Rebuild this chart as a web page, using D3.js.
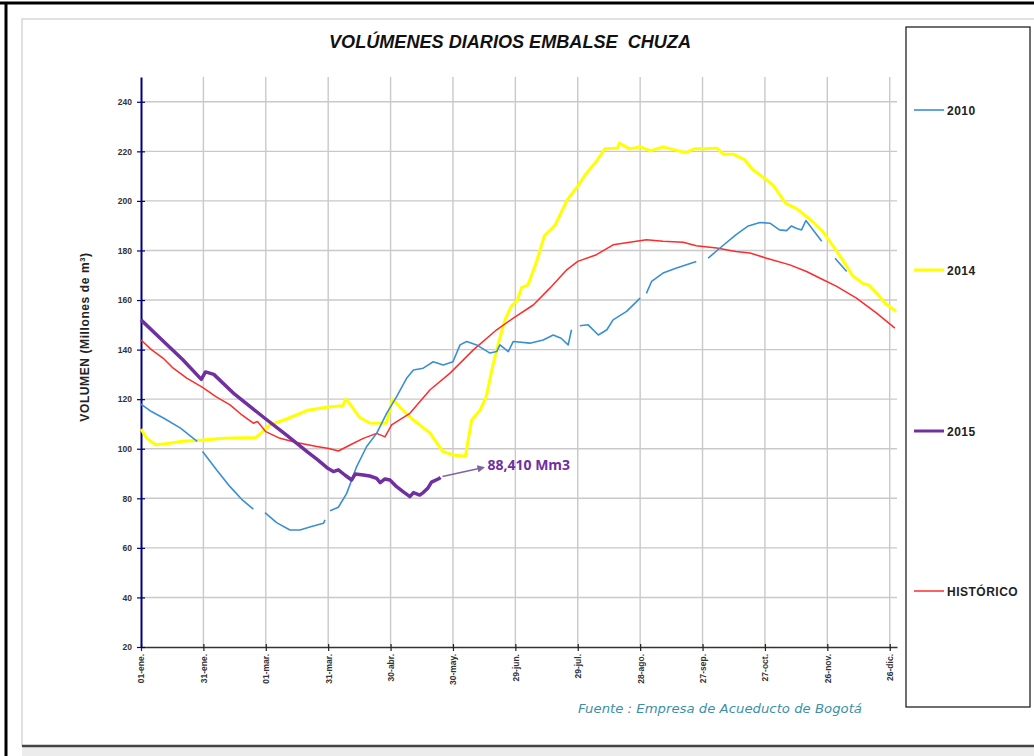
<!DOCTYPE html>
<html>
<head>
<meta charset="utf-8">
<script src="https://cdnjs.cloudflare.com/ajax/libs/d3/7.8.5/d3.min.js"></script>
<style>
body { margin: 0; background: #fff; }
svg { display: block; font-family: Arial, "Liberation Sans", sans-serif; }
</style>
</head>
<body>
<svg width="1034" height="756"></svg>
<script>
// ejes
var tickDias = [0, 30, 60, 90, 120, 150, 180, 210, 240, 270, 300, 330, 360];
var tickEtiquetas = ["01-ene.", "31-ene.", "01-mar.", "31-mar.", "30-abr.", "30-may.", "29-jun.",
    "29-jul.", "28-ago.", "27-sep.", "27-oct.", "26-nov.", "26-dic."];
var yTicks = [20, 40, 60, 80, 100, 120, 140, 160, 180, 200, 220, 240];

// series (dia del año, millones de m3) -- null = sin dato
var dias2010 = [0, 5, 11, 19, 27, 28.3, 29.6, 36.3, 42.8, 48.4, 54, 57, 59.6, 65.2, 71.6, 76.4, 82, 87.7, 88.5, 89.7,
    90.9, 94.9, 98.9, 103.7, 108.5, 113.3, 118.1, 122.9, 127.7, 131, 135.7, 140.5, 145.3, 150, 153.4, 156.6,
    161.4, 167.8, 171, 172.6, 176.6, 179, 187, 193.4, 198.2, 202, 205.4, 207, 209, 211, 215, 219.9, 224, 227,
    233.5, 240, 241.5, 243, 245.5, 251, 257.5, 267, 270, 272.7, 278.4, 286, 292, 297.6, 302.4, 307, 310.4,
    312.8, 315, 317.6, 319.7, 327.3, 330, 333.7, 339.3];
var vol2010 = [118, 115, 112.3, 108.3, 103, null, 98.9, 91.5, 84.7, 79.6, 75.6, null, 74.2, 70.2, 67.2, 67.2, 68.6, 69.9, 71.3, null,
    75, 76.4, 82, 92.8, 100.9, 106.2, 114.3, 121, 128.4, 131.8, 132.5, 135.1, 133.8, 135.1, 141.9, 143.3,
    141.9, 138.6, 139.2, 141.9, 139.2, 143.3, 142.6, 143.9, 145.9, 144.6, 141.9, 148, null, 149.6, 150, 145.9, 148, 152,
    155.4, 160.8, null, 162.7, 167.5, 170.9, 172.9, 175.6, null, 176.9, 181, 186.3, 189.9, 191.3, 191, 188.3, 188,
    189.9, 189, 188.3, 192.1, 183.7, null, 176.9, 171.5];

var dias2014 = [0, 2.7, 7, 12, 20, 30, 40, 55, 58, 62, 70, 80, 90, 97, 98.5, 101, 105, 110, 118, 121, 126, 131,
    139, 145, 150, 156, 157, 159, 163, 166, 169, 172, 175, 178, 181, 183, 186, 190, 194, 199, 205, 210, 214,
    219, 223, 229, 230, 235, 240, 245, 251, 257, 262, 266, 271, 277, 280, 285, 290, 294, 299, 304, 310, 315,
    320, 323, 328, 333, 338, 342, 347, 350, 354, 358, 363];
var vol2014 = [108, 104.3, 101.6, 102, 103, 103.5, 104.2, 104.5, 106.5, 109.6, 112, 115.5, 116.8, 117.3, 120, 117.5, 112.7,
    110.4, 110.3, 120, 115.5, 111.6, 106.3, 99, 97.5, 97, 102, 111.6, 115.5, 121, 133, 143, 152, 157.5, 160, 165,
    166, 175, 186, 190, 200.5, 206, 211, 216, 221, 221.3, 223.3, 221, 221.8, 220.2, 221.8, 220.5, 219.5, 221,
    221, 221.3, 218.8, 218.8, 216.8, 212.8, 209.6, 206.3, 199, 197, 193.7, 191.6, 187.5, 181.5, 175.4, 170,
    166.7, 166, 162.6, 158.5, 155.5];

var dias2015 = [0, 10, 20, 29, 31, 35, 45, 60, 70, 80, 85, 90, 92.5, 94.9, 98, 101.3, 103, 106.9, 110, 113.3, 115,
    117.3, 119.7, 122.9, 126, 129.3, 131, 134, 135.7, 138, 139.7, 143.4, 144];
var vol2015 = [152, 144, 136, 128, 131, 130, 122, 112, 105.5, 98.7, 95.5, 92, 90.8, 91.5, 89.4, 87.4, 89.8, 89.4, 89,
    88, 86.3, 87.8, 87.4, 84.7, 82.7, 80.7, 82.3, 81.3, 82.3, 84.2, 86.5, 88, 88.41];

var diasHist = [0, 5, 10.7, 15.5, 22, 29.6, 36, 42.8, 48, 54, 56, 60, 66.8, 74.8, 84.5, 90.4, 94.9, 100.5, 106.9,
    113.3, 117.3, 120.5, 129.3, 139, 148.6, 159.8, 171, 179, 188.6, 196.6, 204.7, 210, 219, 227, 235, 243,
    251, 260.7, 267, 276.8, 286, 292.8, 300.8, 312, 320, 328, 334.5, 344, 353.7, 362.5];
var volHist = [143.9, 140, 136.5, 132.5, 128.5, 124.8, 121, 117.7, 114, 110.3, 111, 106.9, 104.2, 102.5, 100.9, 100.1,
    99.1, 101.5, 104.2, 106.2, 104.8, 109.6, 114.3, 123.8, 130.5, 139.9, 148, 152.7, 158, 164.8, 172.2, 175.6,
    178.3, 182.3, 183.3, 184.3, 183.7, 183.3, 181.9, 181, 179.6, 179, 176.9, 174.2, 171.5, 168.2, 165.5, 160.8,
    154.7, 148.7];

var series = [
    {nombre: "2010", dias: dias2010, vol: vol2010, color: "#3a8fd3", ancho: 1.6},
    {nombre: "2014", dias: dias2014, vol: vol2014, color: "#ffff00", ancho: 3},
    {nombre: "2015", dias: dias2015, vol: vol2015, color: "#7030a0", ancho: 3.5},
    {nombre: "HISTÓRICO", dias: diasHist, vol: volHist, color: "#ff2b2b", ancho: 1.5}
];
var ordenDibujo = [1, 3, 0, 2];

var svg = d3.select("svg");

// marco
svg.append("rect").attr("x", 22).attr("y", 19).attr("width", 1040).attr("height", 727)
    .attr("fill", "#fff").attr("stroke", "#d8d8d8").attr("stroke-width", 1.5);
svg.append("rect").attr("x", 22).attr("y", 747).attr("width", 1012).attr("height", 9).attr("fill", "#ececec");
svg.append("line").attr("x1", 22).attr("x2", 1034).attr("y1", 746).attr("y2", 746)
    .attr("stroke", "#444").attr("stroke-width", 2.5);
svg.append("line").attr("x1", 0).attr("x2", 1034).attr("y1", 3).attr("y2", 3)
    .attr("stroke", "#000").attr("stroke-width", 3);
svg.append("line").attr("x1", 6).attr("x2", 6).attr("y1", 2).attr("y2", 756)
    .attr("stroke", "#000").attr("stroke-width", 3);

var x = d3.scaleLinear().domain([0, 363.5]).range([141, 897]);
var y = d3.scaleLinear().domain([20, 250]).range([647, 77]);

// rejilla
var grid = svg.append("g");
grid.selectAll(".gv").data(tickDias.slice(1)).enter().append("line")
    .attr("x1", function(d) { return x(d); }).attr("x2", function(d) { return x(d); })
    .attr("y1", y(250)).attr("y2", y(20))
    .attr("stroke", "#c9c9c9").attr("stroke-width", 1.4);
grid.selectAll(".gh").data(yTicks.slice(1)).enter().append("line")
    .attr("x1", x(0)).attr("x2", x(363.5))
    .attr("y1", function(d) { return y(d); }).attr("y2", function(d) { return y(d); })
    .attr("stroke", "#c9c9c9").attr("stroke-width", 1.4);

// eje X
var gx = svg.append("g").attr("transform", "translate(0," + y(20) + ")")
    .call(d3.axisBottom(x).tickValues(tickDias)
        .tickFormat(function(d, i) { return tickEtiquetas[i]; })
        .tickSizeOuter(0));
gx.select(".domain").attr("stroke", "#333").attr("stroke-width", 1.6);
gx.selectAll(".tick line").attr("y1", -3).attr("y2", 4).attr("stroke", "#222").attr("stroke-width", 1.2);
gx.selectAll(".tick text")
    .attr("transform", "rotate(-90)")
    .attr("x", -7).attr("y", 0).attr("dy", "0.35em")
    .style("text-anchor", "end")
    .style("font-size", "8.5px").style("font-weight", "bold").attr("fill", "#333");

// eje Y
var gy = svg.append("g").attr("transform", "translate(" + x(0) + ",0)")
    .call(d3.axisLeft(y).tickValues(yTicks).tickSizeOuter(0));
gy.select(".domain").attr("stroke", "#000080").attr("stroke-width", 2);
gy.selectAll(".tick line").attr("x1", -4).attr("x2", 4).attr("stroke", "#000080").attr("stroke-width", 1.2);
gy.selectAll(".tick text").attr("x", -9)
    .style("font-size", "8.5px").style("font-weight", "bold").attr("fill", "#333");

// lineas
var linea = d3.line()
    .defined(function(d) { return d[1] != null; })
    .x(function(d) { return x(d[0]); })
    .y(function(d) { return y(d[1]); });

ordenDibujo.forEach(function(k) {
    var s = series[k];
    var pts = s.dias.map(function(d, i) { return [d, s.vol[i]]; });
    svg.append("path")
        .datum(pts)
        .attr("d", linea)
        .attr("fill", "none")
        .attr("stroke", s.color)
        .attr("stroke-width", s.ancho)
        .attr("stroke-linejoin", "round");
});

// anotacion ultimo dato 2015
var ultDia = dias2015[dias2015.length - 1], ultVol = vol2015[vol2015.length - 1];
var ax = x(ultDia) + 2, ay = y(ultVol) - 1;
svg.append("defs").append("marker")
    .attr("id", "flecha").attr("viewBox", "0 0 10 10").attr("refX", 8).attr("refY", 5)
    .attr("markerWidth", 5).attr("markerHeight", 5).attr("orient", "auto")
    .append("path").attr("d", "M0,0L10,5L0,10z").attr("fill", "#8064a2");
svg.append("line")
    .attr("x1", ax).attr("y1", ay).attr("x2", ax + 41).attr("y2", ay - 9)
    .attr("stroke", "#8064a2").attr("stroke-width", 1.5).attr("marker-end", "url(#flecha)");
svg.append("text")
    .attr("x", ax + 45).attr("y", ay - 6)
    .attr("fill", "#7030a0")
    .style("font-family", "'Open Sans', Lato, Arial, sans-serif")
    .style("font-size", "14px").style("font-weight", "bold")
    .text(d3.format(".3f")(ultVol).replace(".", ",") + " Mm3");

// titulo
svg.append("text")
    .attr("x", 510).attr("y", 48)
    .attr("text-anchor", "middle")
    .attr("textLength", 362).attr("lengthAdjust", "spacingAndGlyphs")
    .style("font-family", "'Liberation Sans Narrow', Arial, sans-serif")
    .style("font-size", "18.5px").style("font-weight", "bold").style("font-style", "italic")
    .style("white-space", "pre")
    .attr("fill", "#111")
    .text("VOLÚMENES DIARIOS EMBALSE  CHUZA");

// titulo eje Y
var ylab = svg.append("text")
    .attr("transform", "translate(89,337) rotate(-90)")
    .attr("text-anchor", "middle")
    .style("font-size", "12px").style("font-weight", "bold")
    .style("letter-spacing", "0.6px")
    .attr("fill", "#222");
ylab.append("tspan").text("VOLUMEN (Millones de m");
ylab.append("tspan").attr("dy", -4).style("font-size", "7.5px").text("3");
ylab.append("tspan").attr("dy", 4).text(")");

// leyenda
svg.append("rect").attr("x", 906).attr("y", 27).attr("width", 124).attr("height", 680)
    .attr("fill", "#fff").attr("stroke", "#222").attr("stroke-width", 1.3);
var leyY = [110, 270, 431, 591];
series.forEach(function(s, i) {
    svg.append("line")
        .attr("x1", 914).attr("x2", 944).attr("y1", leyY[i]).attr("y2", leyY[i])
        .attr("stroke", s.color).attr("stroke-width", Math.min(s.ancho, 3));
    svg.append("text")
        .attr("x", 947).attr("y", leyY[i] + 4.5)
        .style("font-size", "12px").style("font-weight", "bold")
        .style("letter-spacing", "0.5px")
        .attr("fill", "#222")
        .text(s.nombre);
});

// fuente
svg.append("text")
    .attr("x", 578).attr("y", 713)
    .attr("textLength", 284).attr("lengthAdjust", "spacingAndGlyphs")
    .style("font-family", "'DejaVu Sans', sans-serif")
    .style("font-size", "13px").style("font-style", "italic")
    .attr("fill", "#3b8fa8")
    .text("Fuente : Empresa de Acueducto de Bogotá");
</script>
</body>
</html>
